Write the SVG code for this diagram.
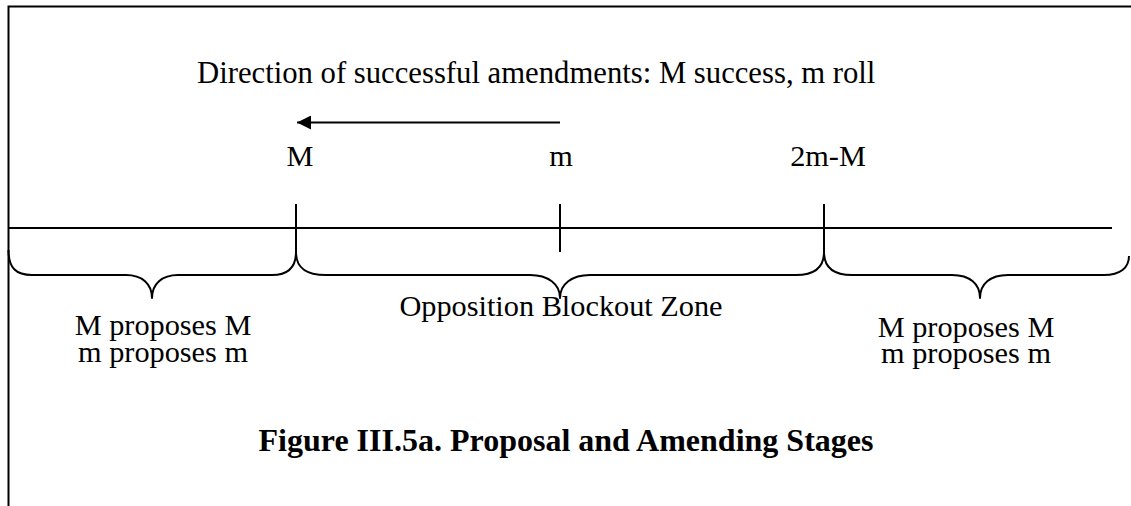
<svg xmlns="http://www.w3.org/2000/svg" width="1131" height="506" viewBox="0 0 1131 506">
  <style>
    text { font-family: 'Liberation Serif', Tinos, 'Times New Roman', 'DejaVu Serif', serif; font-size: 30.3px; fill: #000; }
    .c { text-anchor: middle; }
    .b { font-weight: bold; font-size: 32px; }
    .ln { stroke: #000; stroke-width: 2; fill: none; }
    .br { stroke: #000; stroke-width: 2; fill: none; stroke-linejoin: round; }
  </style>
  <defs>
    <marker id="arrowhead" markerWidth="14" markerHeight="14" refX="14" refY="7" orient="auto" markerUnits="userSpaceOnUse">
      <path d="M0,0 L14,7 L0,14 Z" fill="#000"/>
    </marker>
  </defs>
  <rect width="1131" height="506" fill="#fff"/>

  <!-- frame -->
  <g id="frame">
    <path class="ln" d="M8.5,506 V6.5 H1131"/>
  </g>

  <!-- caption -->
  <g id="direction-label">
    <text x="197" y="83" style="font-size:30.7px">Direction of successful amendments: M success, m roll</text>
  </g>

  <!-- point labels -->
  <g id="point-M"><text class="c" x="300" y="166">M</text></g>
  <g id="point-m"><text class="c" x="561" y="166">m</text></g>
  <g id="point-2m-M"><text class="c" x="828" y="166">2m-M</text></g>

  <!-- axis with ticks, braces and arrow -->
  <g id="connectors">
    <line class="ln" x1="8" y1="228" x2="1112" y2="228"/>
    <line class="ln" x1="296" y1="204" x2="296" y2="252"/>
    <line class="ln" x1="560" y1="204" x2="560" y2="252"/>
    <line class="ln" x1="824" y1="204" x2="824" y2="252"/>
    <line class="ln" x1="560" y1="122.5" x2="297" y2="122.5" marker-end="url(#arrowhead)"/>
    <!-- left brace -->
    <path class="br" d="M8.5,250 C8.5,268 16,275 32,275 H126 C142,275 152,284 152,298 C152,284 162,275 178,275 H272 C288,275 296,268 296,252"/>
    <!-- middle brace -->
    <path class="br" d="M296,252 C296,268 306,275 326,275 H530 C548,275 560,284 560,298 C560,284 572,275 590,275 H796 C814,275 824,268 824,252"/>
    <!-- right brace -->
    <path class="br" d="M824,252 C824,268 834,275 852,275 H952 C970,275 980,284 980,298 C980,284 990,275 1008,275 H1104 C1120,275 1129,268 1129,256"/>
  </g>

  <!-- zone labels -->
  <g id="zone-left">
    <text class="c" x="163" y="335">M proposes M</text>
    <text class="c" x="163" y="362">m proposes m</text>
  </g>
  <g id="zone-middle">
    <text class="c" x="561" y="316">Opposition Blockout Zone</text>
  </g>
  <g id="zone-right">
    <text class="c" x="966" y="337">M proposes M</text>
    <text class="c" x="966" y="363">m proposes m</text>
  </g>

  <!-- figure title -->
  <g id="figure-title">
    <text class="c b" x="566" y="451">Figure III.5a. Proposal and Amending Stages</text>
  </g>
</svg>
